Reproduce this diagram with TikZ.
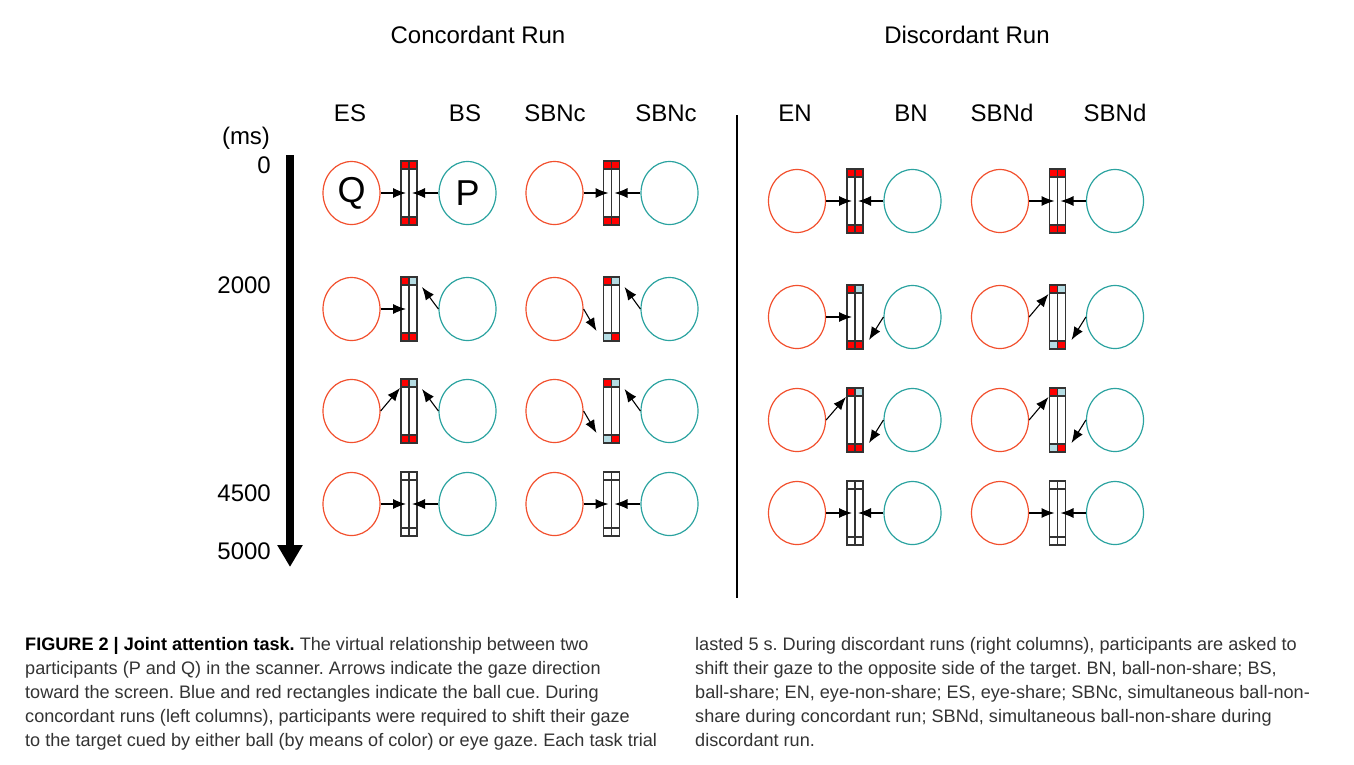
\documentclass[tikz,border=0pt]{standalone}
\usepackage{fontspec}
\setmainfont{Liberation Sans}
\usetikzlibrary{arrows.meta,shapes.geometric}
\definecolor{qred}{HTML}{F2502E}
\definecolor{pteal}{HTML}{2BA3A0}
\definecolor{cblue}{HTML}{B5DCE3}
\definecolor{cred}{HTML}{FF0000}
\definecolor{capgray}{HTML}{333333}
\tikzset{
  qcirc/.style={ellipse, draw=qred, line width=1.2pt, minimum width=57pt, minimum height=63pt, inner sep=0pt},
  pcirc/.style={ellipse, draw=pteal, line width=1.2pt, minimum width=57pt, minimum height=63pt, inner sep=0pt},
  gaze/.style={-{Latex[length=13pt,width=10pt]}, line width=1.1pt, black},
  scrline/.style={draw=black!80, line width=1.5pt},
  lbl/.style={font=\fontsize{24}{28}\selectfont, inner sep=0pt, anchor=base},
  letter/.style={font=\fontsize{36}{40}\selectfont},
  captxt/.style={font=\fontsize{18.1}{24}\selectfont, inner sep=0pt, anchor=north west, align=left, text=capgray},
}
% #1 prefix, #2 xQ, #3 xP, #4 y
\newcommand{\gazepair}[4]{%
  \node[qcirc] (#1q) at (#2,#4) {};
  \node[pcirc] (#1p) at (#3,#4) {};
}
% #1 name, #2 x, #3 y, #4 tl, #5 tr, #6 bl, #7 br
\newcommand{\screenbox}[7]{%
  \begin{scope}[shift={(#2,#3)}]
    \fill[#4] (-8,-32) rectangle (0,-24);
    \fill[#5] (0,-32) rectangle (8,-24);
    \fill[#6] (-8,24) rectangle (0,32);
    \fill[#7] (0,24) rectangle (8,32);
    \draw[scrline] (-8,-32) rectangle (8,32) (-8,-24) -- (8,-24) (-8,24) -- (8,24) (0,-32) -- (0,32);
    \node[minimum width=16pt, minimum height=64pt, inner sep=0pt] (#1) at (0,0) {};
    \coordinate (#1-ql) at (-3,0);
    \coordinate (#1-pr) at (3,0);
    \coordinate (#1-qu) at (-9,-23);
    \coordinate (#1-pu) at (13,-22);
    \coordinate (#1-qd) at (-15,22);
    \coordinate (#1-pd) at (14,23);
  \end{scope}
}
\begin{document}
\frenchspacing
\begin{tikzpicture}[x=1pt,y=-1pt]
\useasboundingbox[fill=white] (0,0) rectangle (1354,764);

% headers
\node[lbl] (hc) at (478,43.6) {Concordant Run};
\node[lbl] (hd) at (967,43.6) {Discordant Run};
\node[lbl] (les) at (350,121.6) {ES};
\node[lbl] (lbs) at (465,121.6) {BS};
\node[lbl] (lsc1) at (555,121.6) {SBNc};
\node[lbl] (lsc2) at (666,121.6) {SBNc};
\node[lbl] (len) at (795,121.6) {EN};
\node[lbl] (lbn) at (911,121.6) {BN};
\node[lbl] (lsd1) at (1002,121.6) {SBNd};
\node[lbl] (lsd2) at (1115,121.6) {SBNd};

% time axis
\node[lbl] (ms) at (246,144) {(ms)};
\node[lbl, anchor=base east] (t0) at (271,173.6) {0};
\node[lbl, anchor=base east] (t1) at (271,293.6) {2000};
\node[lbl, anchor=base east] (t2) at (271,501.6) {4500};
\node[lbl, anchor=base east] (t3) at (271,559.6) {5000};
\coordinate (axtop) at (290,155);
\coordinate (axbot) at (290,567);
\draw[line width=8pt, -{Triangle[width=24pt,length=22pt]}] (axtop) -- (axbot);

% divider
\coordinate (dvtop) at (737,115);
\coordinate (dvbot) at (737,598);
\draw[line width=1.2pt] (dvtop) -- (dvbot);

% ===== Concordant: ES / BS =====
\gazepair{a1}{351.5}{467.5}{193}
\node[letter] at (a1q) {Q};
\node[letter] at (a1p) {P};
\screenbox{a1s}{409}{193}{cred}{cred}{cred}{cred}
\draw[gaze] (a1q.east) -- (a1s-ql);
\draw[gaze] (a1p.west) -- (a1s-pr);

\gazepair{a2}{351.5}{467.5}{309}
\screenbox{a2s}{409}{309}{cred}{cblue}{cred}{cred}
\draw[gaze] (a2q.east) -- (a2s-ql);
\draw[gaze] (a2p.west) -- (a2s-pu);

\gazepair{a3}{351.5}{467.5}{411}
\screenbox{a3s}{409}{411}{cred}{cblue}{cred}{cred}
\draw[gaze] (a3q.east) -- (a3s-qu);
\draw[gaze] (a3p.west) -- (a3s-pu);

\gazepair{a4}{351.5}{467.5}{504}
\screenbox{a4s}{409}{504}{white}{white}{white}{white}
\draw[gaze] (a4q.east) -- (a4s-ql);
\draw[gaze] (a4p.west) -- (a4s-pr);

% ===== Concordant: SBNc =====
\gazepair{b1}{554.5}{669.5}{193}
\screenbox{b1s}{611.5}{193}{cred}{cred}{cred}{cred}
\draw[gaze] (b1q.east) -- (b1s-ql);
\draw[gaze] (b1p.west) -- (b1s-pr);

\gazepair{b2}{554.5}{669.5}{309}
\screenbox{b2s}{611.5}{309}{cred}{cblue}{cblue}{cred}
\draw[gaze] (b2q.east) -- (b2s-qd);
\draw[gaze] (b2p.west) -- (b2s-pu);

\gazepair{b3}{554.5}{669.5}{411}
\screenbox{b3s}{611.5}{411}{cred}{cblue}{cblue}{cred}
\draw[gaze] (b3q.east) -- (b3s-qd);
\draw[gaze] (b3p.west) -- (b3s-pu);

\gazepair{b4}{554.5}{669.5}{504}
\screenbox{b4s}{611.5}{504}{white}{white}{white}{white}
\draw[gaze] (b4q.east) -- (b4s-ql);
\draw[gaze] (b4p.west) -- (b4s-pr);

% ===== Discordant: EN / BN =====
\gazepair{c1}{797}{912.5}{201}
\screenbox{c1s}{855}{201}{cred}{cred}{cred}{cred}
\draw[gaze] (c1q.east) -- (c1s-ql);
\draw[gaze] (c1p.west) -- (c1s-pr);

\gazepair{c2}{797}{912.5}{317}
\screenbox{c2s}{855}{317}{cred}{cblue}{cred}{cred}
\draw[gaze] (c2q.east) -- (c2s-ql);
\draw[gaze] (c2p.west) -- (c2s-pd);

\gazepair{c3}{797}{912.5}{420}
\screenbox{c3s}{855}{420}{cred}{cblue}{cred}{cred}
\draw[gaze] (c3q.east) -- (c3s-qu);
\draw[gaze] (c3p.west) -- (c3s-pd);

\gazepair{c4}{797}{912.5}{513}
\screenbox{c4s}{855}{513}{white}{white}{white}{white}
\draw[gaze] (c4q.east) -- (c4s-ql);
\draw[gaze] (c4p.west) -- (c4s-pr);

% ===== Discordant: SBNd =====
\gazepair{d1}{1000}{1115}{201}
\screenbox{d1s}{1057.5}{201}{cred}{cred}{cred}{cred}
\draw[gaze] (d1q.east) -- (d1s-ql);
\draw[gaze] (d1p.west) -- (d1s-pr);

\gazepair{d2}{1000}{1115}{317}
\screenbox{d2s}{1057.5}{317}{cred}{cblue}{cblue}{cred}
\draw[gaze] (d2q.east) -- (d2s-qu);
\draw[gaze] (d2p.west) -- (d2s-pd);

\gazepair{d3}{1000}{1115}{420}
\screenbox{d3s}{1057.5}{420}{cred}{cblue}{cblue}{cred}
\draw[gaze] (d3q.east) -- (d3s-qu);
\draw[gaze] (d3p.west) -- (d3s-pd);

\gazepair{d4}{1000}{1115}{513}
\screenbox{d4s}{1057.5}{513}{white}{white}{white}{white}
\draw[gaze] (d4q.east) -- (d4s-ql);
\draw[gaze] (d4p.west) -- (d4s-pr);

% caption
\node[captxt] (capl) at (25,637) {{\bfseries\color{black}FIGURE 2 | Joint attention task.} The virtual relationship between two\\
participants (P and Q) in the scanner. Arrows indicate the gaze direction\\
toward the screen. Blue and red rectangles indicate the ball cue. During\\
concordant runs (left columns), participants were required to shift their gaze\\
to the target cued by either ball (by means of color) or eye gaze. Each task trial};
\node[captxt] (capr) at (695,637) {lasted 5 s. During discordant runs (right columns), participants are asked to\\
shift their gaze to the opposite side of the target. BN, ball-non-share; BS,\\
ball-share; EN, eye-non-share; ES, eye-share; SBNc, simultaneous ball-non-\\
share during concordant run; SBNd, simultaneous ball-non-share during\\
discordant run.};
\end{tikzpicture}
\end{document}
